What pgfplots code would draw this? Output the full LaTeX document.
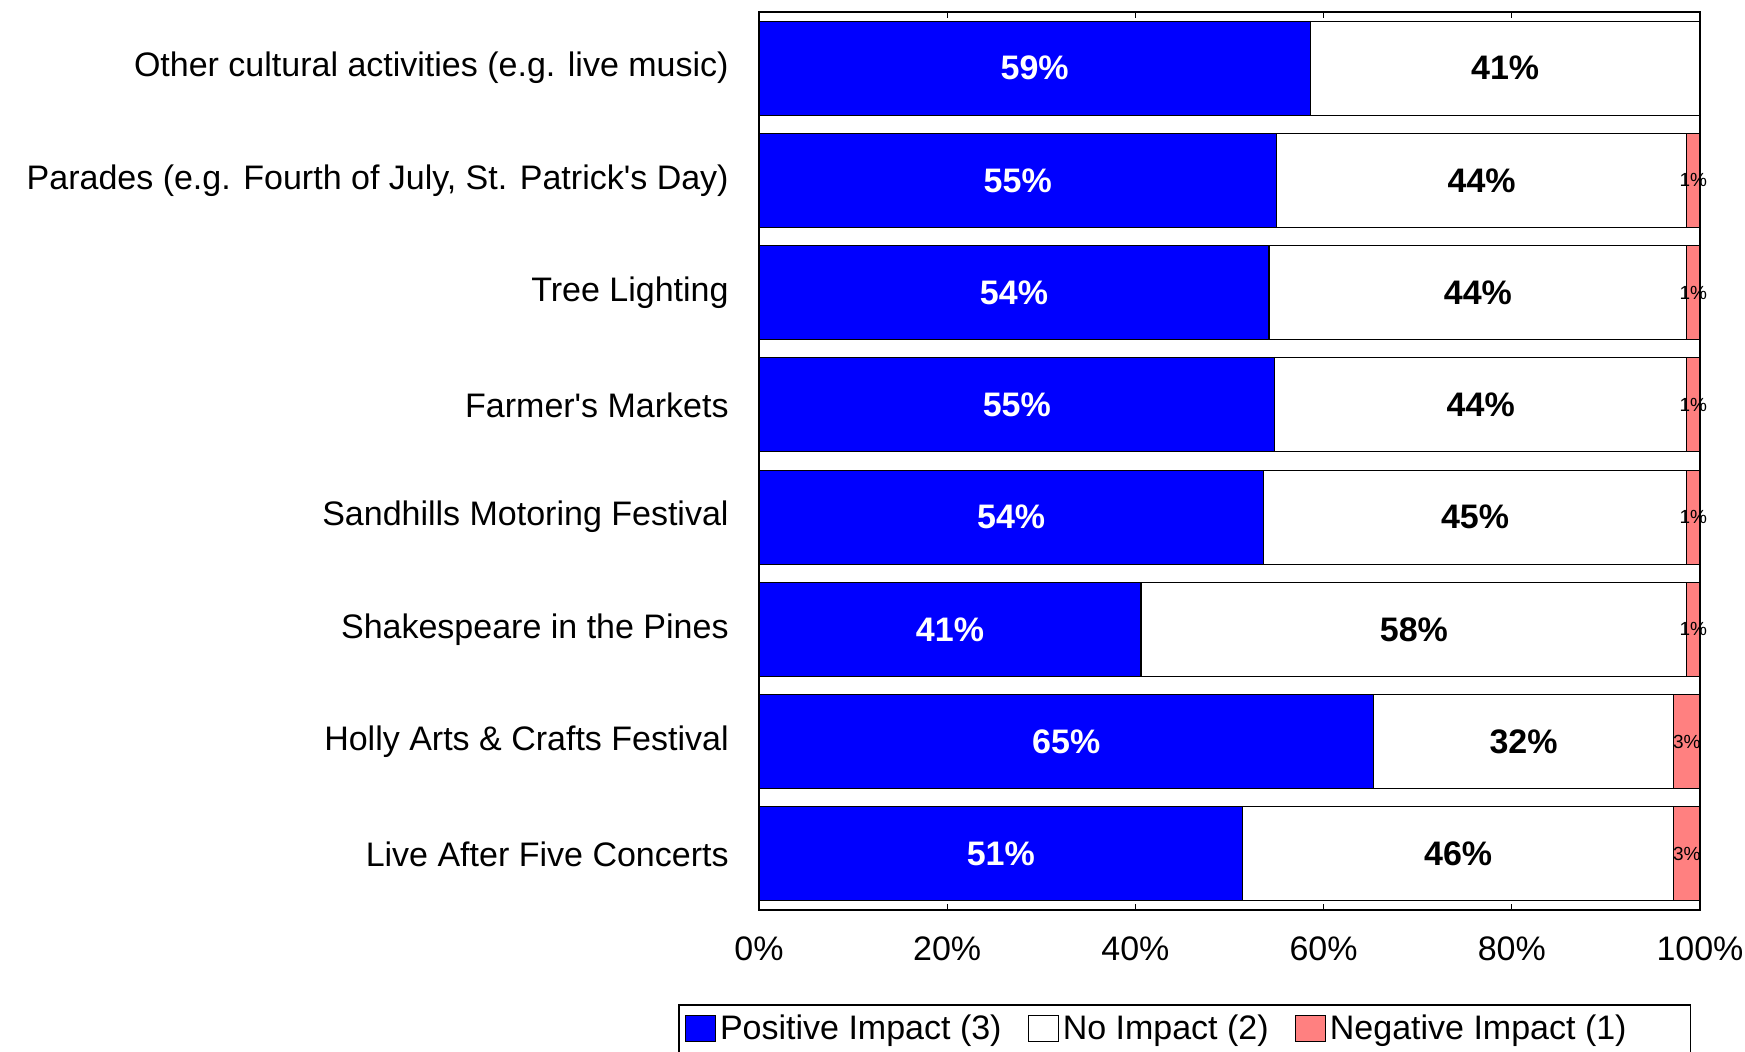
\documentclass[border=0pt]{standalone}
\usepackage{pgfplots}
\pgfplotsset{compat=1.18}
\usepackage{pgfplotstable}
\usepackage{fontspec}
\setmainfont{Liberation Sans}
\definecolor{posblue}{RGB}{0,0,255}
\definecolor{negred}{RGB}{255,128,128}
\newcommand\lab{\fontsize{17pt}{20pt}\selectfont}

% y: 1 = bottom row (Live After Five) ... 8 = top row (Other cultural)
\pgfplotstableread{
y pos none
1 51.4 45.8
2 65.3 31.9
3 40.6 58.0
4 53.6 45.0
5 54.8 43.8
6 54.2 44.4
7 55.0 43.6
8 58.6 41.4
}\maindata
\pgfplotstableread{
y neg
1 2.8
2 2.8
3 1.4
4 1.4
5 1.4
6 1.4
7 1.4
}\negdata

\begin{document}
\begin{tikzpicture}
\useasboundingbox (-379.5pt,-70.5pt) rectangle (493pt,455pt);
\begin{axis}[
  at={(0pt,0pt)}, anchor=south west,
  scale only axis, width=470.5pt, height=449pt,
  xbar stacked, bar width=47pt,
  xmin=0, xmax=100, ymin=0.5, ymax=8.5,
  clip=false,
  axis line style={line width=0.8pt},
  xtick={0,20,40,60,80,100},
  xticklabels={0\%,20\%,40\%,60\%,80\%,100\%},
  xtick pos=both, tick align=inside, major tick length=3pt,
  x tick style={black, line width=0.6pt},
  ytick={1,...,8},
  y tick style={draw=none},
  yticklabels={Live After Five Concerts, Holly Arts \& Crafts Festival, Shakespeare in the Pines, Sandhills Motoring Festival, Farmer\textquotesingle s Markets, Tree Lighting, {Parades (e.g. Fourth of July, St. Patrick\textquotesingle s Day)}, {Other cultural activities (e.g. live music)}},
  yticklabel style={font=\lab, anchor=east, inner sep=0pt, xshift=-15pt},
  xticklabel style={font=\lab, anchor=base, yshift=-25pt},
  /pgf/number format/assume math mode=true,
  legend columns=3,
  legend style={at={(-0.0860,-0.1047)}, anchor=north west, draw=black, line width=0.8pt,
    font=\lab, inner xsep=3pt, inner ysep=3pt,
    nodes={inner xsep=2pt},
    /tikz/every even column/.append style={column sep=11pt}},
  every axis plot/.append style={draw=black, line width=0.6pt},
]
\addplot[fill=posblue, point meta=explicit,
  legend image code/.code={\draw[fill=posblue,draw=black,line width=0.6pt] (0pt,-6.5pt) rectangle (15pt,6.5pt);},
  nodes near coords={\pgfmathprintnumber[fixed,precision=0]{\pgfplotspointmeta}\%},
  every node near coord/.append style={font=\bfseries\lab, text=white, anchor=center}]
  table[x=pos, y=y, meta=pos] {\maindata};
\addlegendentry{Positive Impact (3)}
\addplot[fill=white, point meta=explicit,
  legend image code/.code={\draw[fill=white,draw=black,line width=0.6pt] (0pt,-6.5pt) rectangle (15pt,6.5pt);},
  nodes near coords={\pgfmathprintnumber[fixed,precision=0]{\pgfplotspointmeta}\%},
  every node near coord/.append style={font=\bfseries\lab, text=black, anchor=center}]
  table[x=none, y=y, meta=none] {\maindata};
\addlegendentry{No Impact (2)}
\addplot[fill=negred, point meta=explicit,
  legend image code/.code={\draw[fill=negred,draw=black,line width=0.6pt] (0pt,-6.5pt) rectangle (15pt,6.5pt);},
  nodes near coords={\pgfmathprintnumber[fixed,precision=0]{\pgfplotspointmeta}\%},
  every node near coord/.append style={font=\fontsize{9.5pt}{10pt}\selectfont, text=black, anchor=center}]
  table[x=neg, y=y, meta=neg] {\negdata};
\addlegendentry{Negative Impact (1)\hspace*{27pt}\mbox{}}
\end{axis}
\end{tikzpicture}
\end{document}
